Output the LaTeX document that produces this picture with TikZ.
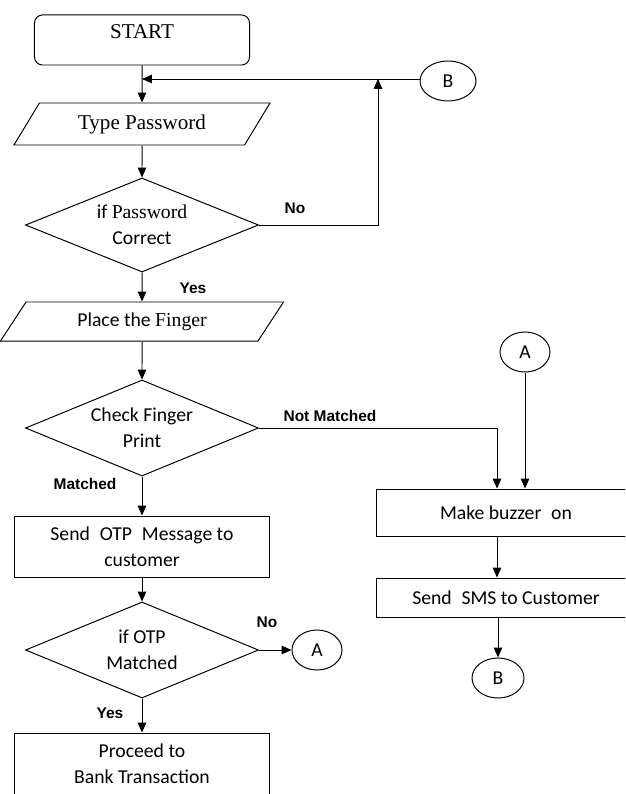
\documentclass[tikz,border=0pt]{standalone}
\usepackage{fontspec}
\setmainfont{Carlito}
\newfontfamily\serifface{Liberation Serif}
\newfontfamily\labelface{Liberation Sans}
\usetikzlibrary{shapes.geometric,arrows.meta}

\begin{document}
\begin{tikzpicture}[x=0.025cm, y=-0.025cm, line width=0.7pt,
  font=\fontsize{14}{18.4}\selectfont,
  arr/.style={-{Triangle[length=7pt,width=6pt]}},
  box/.style={draw, rectangle, align=center, inner sep=0pt},
  io/.style={draw, trapezium, trapezium stretches body, inner sep=0pt},
  decision/.style={draw, diamond, aspect=2.5, align=center, inner sep=0pt, minimum width=5.825cm},
  connector/.style={draw, ellipse, inner sep=0pt, minimum height=1cm},
  branch/.style={font=\labelface\bfseries\fontsize{11}{13}\selectfont}]
\clip (0,0) rectangle (625,794);
% left column
\node[box, rounded corners=0.2cm, minimum width=5.375cm, minimum height=1.25cm, text depth=12pt] (start) at (142,40) {\serifface\fontsize{15}{19}\selectfont START};
\node[io, trapezium left angle=37, trapezium right angle=143, minimum width=6.4cm, minimum height=1.05cm] (tp) at (142,124) {\serifface\fontsize{15}{19}\selectfont Type Password};
\node[decision, minimum height=2.35cm] (d1) at (142,225) {if {\serifface Password}\\Correct};
\node[io, trapezium left angle=35, trapezium right angle=145, minimum width=7.075cm, minimum height=0.975cm] (pf) at (142,321.5) {Place the {\serifface Finger}};
\node[decision, minimum height=2.4cm] (d2) at (142,428) {Check Finger\\Print};
\node[box, minimum width=6.375cm, minimum height=1.525cm] (otp) at (142,546.5) {Send\enspace OTP\enspace Message to\\customer};
\node[decision, minimum height=2.4cm] (d3) at (142,650) {if OTP\\Matched};
\node[box, minimum width=6.375cm, minimum height=1.55cm] (bank) at (142,764) {Proceed to\\Bank Transaction};
% right column
\node[connector, minimum width=1.4cm] (b1) at (448,81) {B};
\node[connector, minimum width=1.25cm] (a1) at (525,352) {A};
\node[box, minimum width=6.45cm, minimum height=1.175cm] (buzz) at (506,512.5) {Make buzzer\enspace on};
\node[box, minimum width=6.45cm, minimum height=0.975cm] (sms) at (506,597.5) {Send\enspace SMS to Customer};
\node[connector, minimum width=1.3cm] (b2) at (498,678) {B};
\node[connector, minimum width=1.25cm] (a2) at (317,650) {A};
\coordinate (jb) at (142,79);
\coordinate (jn) at (378,79);
% labels
\node[branch] (no1) at (295,208) {No};
\node[branch] (yes1) at (193,288) {Yes};
\node[branch] (nm) at (330,416) {Not Matched};
\node[branch] (m) at (85,484) {Matched};
\node[branch] (no2) at (267,622) {No};
\node[branch] (yes2) at (110,713) {Yes};
% flow
\draw[arr] (start) -- (tp);
\draw[arr] (b1.west |- jb) -- (jb);
\draw[arr] (d1.east) -| (jn);
\draw[arr] (tp) -- (d1);
\draw[arr] (d1) -- (pf);
\draw[arr] (pf) -- (d2);
\draw[arr] (d2) -- (otp);
\draw[arr] (d2.east) -| ([xshift=-0.225cm]buzz.north);
\draw[arr] (a1) -- (a1 |- buzz.north);
\draw[arr] ([xshift=-0.225cm]buzz.south) -- ([xshift=-0.225cm]sms.north);
\draw[arr] (b2 |- sms.south) -- (b2);
\draw[arr] (otp) -- (d3);
\draw[arr] (d3) -- (a2);
\draw[arr] (d3) -- (bank);
\end{tikzpicture}
\end{document}
